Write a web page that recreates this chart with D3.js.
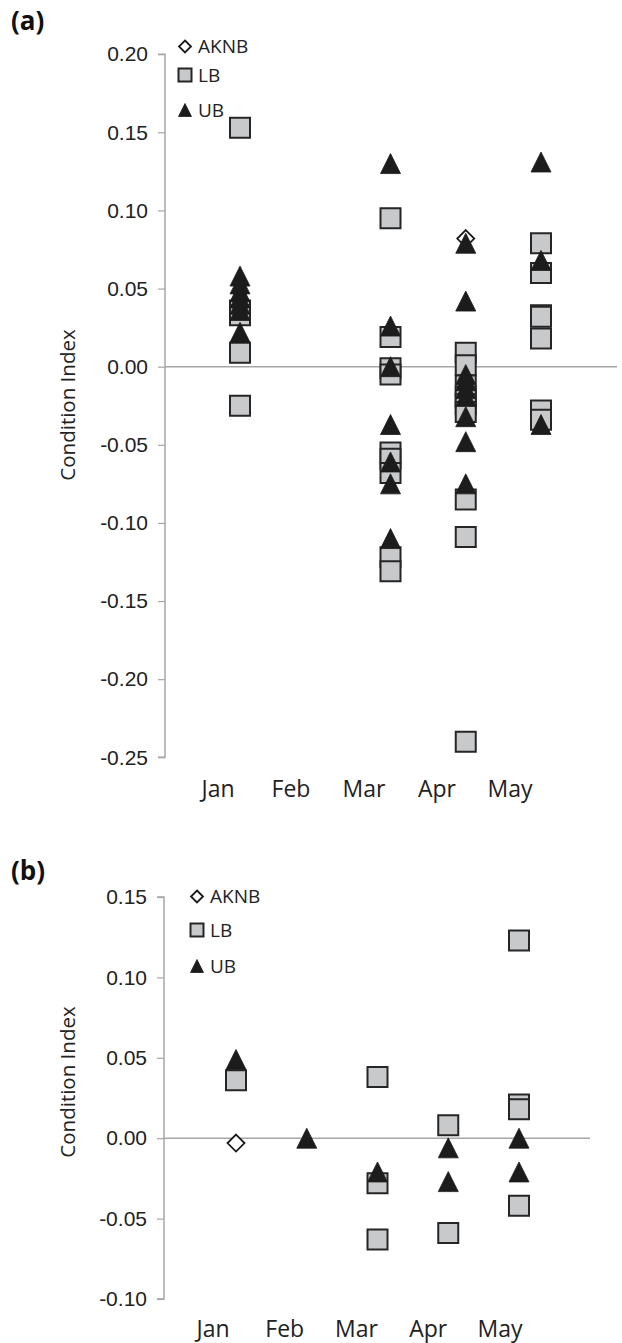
<!DOCTYPE html>
<html>
<head>
<meta charset="utf-8">
<script src="https://cdn.jsdelivr.net/npm/d3@7"></script>
<style>
  body { margin: 0; background: #fff; }
  svg { display: block; font-family: "Open Sans", "Noto Sans", sans-serif; }
</style>
</head>
<body>
<svg id="chart" width="622" height="1343"></svg>
<script>
// month categories (1..5)
const months = ["Jan", "Feb", "Mar", "Apr", "May"];
const seriesNames = ["AKNB", "LB", "UB"];

// panel (a) values: [month index, condition index]
const aAKNB = [[4, 0.082]];
const aLB = [
    [1, 0.153], [1, 0.036], [1, 0.033], [1, 0.009], [1, -0.025],
    [3, 0.095], [3, 0.019], [3, -0.001], [3, -0.005], [3, -0.055], [3, -0.059], [3, -0.068], [3, -0.122], [3, -0.131],
    [4, 0.009], [4, 0.001], [4, -0.012], [4, -0.019], [4, -0.024], [4, -0.029], [4, -0.085], [4, -0.109], [4, -0.240],
    [5, 0.079], [5, 0.060], [5, 0.033], [5, 0.032], [5, 0.018], [5, -0.028], [5, -0.034]
];
const aUB = [
    [1, 0.058], [1, 0.053], [1, 0.048], [1, 0.044], [1, 0.040], [1, 0.036], [1, 0.022],
    [3, 0.130], [3, 0.026], [3, 0.000], [3, -0.037], [3, -0.061], [3, -0.075], [3, -0.110],
    [4, 0.079], [4, 0.042], [4, -0.005], [4, -0.009], [4, -0.014], [4, -0.019], [4, -0.032], [4, -0.048], [4, -0.075],
    [5, 0.131], [5, 0.068], [5, -0.037]
];
const aTicks = [0.20, 0.15, 0.10, 0.05, 0.00, -0.05, -0.10, -0.15, -0.20, -0.25];

// panel (b) values
const bAKNB = [[1, -0.003]];
const bLB = [
    [1, 0.036],
    [3, 0.038], [3, -0.028], [3, -0.063],
    [4, 0.008], [4, -0.059],
    [5, 0.123], [5, 0.021], [5, 0.018], [5, -0.042]
];
const bUB = [
    [1, 0.049], [2, 0.000],
    [3, -0.021],
    [4, -0.006], [4, -0.027],
    [5, 0.000], [5, -0.021]
];
const bTicks = [0.15, 0.10, 0.05, 0.00, -0.05, -0.10];

const svg = d3.select('#chart');

// marker shapes, centred on 0,0
function markerPath(type, s) {
    let h = s / 2;
    if (type === 'AKNB') return `M0,${-h}L${h},0L0,${h}L${-h},0Z`;
    if (type === 'LB') return `M${-h},${-h}H${h}V${h}H${-h}Z`;
    return `M0,${-h}L${h},${h}L${-h},${h}Z`;
}

function styleMarker(sel, type) {
    if (type === 'AKNB') {
        sel.attr('fill', '#fff').attr('stroke', '#1a1a1a').attr('stroke-width', 1.8);
    } else if (type === 'LB') {
        sel.attr('fill', '#c8c9cb').attr('stroke', '#262626').attr('stroke-width', 2);
    } else {
        sel.attr('fill', '#1c1c1c').attr('stroke', '#1c1c1c').attr('stroke-width', 0.8);
    }
}

function drawPanel(p) {
    let g = svg.append('g');

    let y = d3.scaleLinear().domain(p.yDomain).range(p.yRange);
    let x = d3.scaleLinear().domain([1, 5]).range(p.markerRange);
    let xl = d3.scaleLinear().domain([1, 5]).range(p.labelRange);

    // y axis
    let yAxis = d3.axisLeft(y)
        .tickValues(p.ticks)
        .tickSize(7)
        .tickPadding(10)
        .tickFormat(d3.format('.2f'));

    let ax = g.append('g')
        .attr('transform', `translate(${p.axisX},0)`)
        .call(yAxis);
    ax.select('.domain').attr('stroke', '#a6a6a6').attr('stroke-width', 1.5)
        .attr('d', `M-7,${p.yRange[1]}H0V${p.yRange[0]}H-7`);
    ax.selectAll('.tick line').attr('stroke', '#a6a6a6').attr('stroke-width', 1.2);
    ax.selectAll('.tick text')
        .attr('fill', '#222')
        .style('font-size', '21px')
        .text(d => d3.format('.2f')(d).replace('−', '-'));

    // zero line
    g.append('line')
        .attr('x1', p.axisX).attr('x2', p.zeroEnd)
        .attr('y1', y(0)).attr('y2', y(0))
        .attr('stroke', '#a6a6a6').attr('stroke-width', 1.5);

    // month labels
    g.selectAll('.month')
        .data(months)
        .enter().append('text')
        .attr('x', (d, i) => xl(i + 1))
        .attr('y', p.monthY)
        .attr('text-anchor', 'middle')
        .attr('fill', '#222')
        .style('font-size', '23px')
        .text(d => d);

    // axis title
    g.append('text')
        .attr('transform', `translate(${p.titleX},${p.titleY}) rotate(-90)`)
        .attr('text-anchor', 'middle')
        .attr('fill', '#222')
        .style('font-size', '20.5px')
        .text('Condition Index');

    // panel letter
    g.append('text')
        .attr('x', 11).attr('y', p.letterY)
        .attr('fill', '#111')
        .style('font-size', '26px')
        .style('font-weight', 'bold')
        .text(p.letter);

    // points, series order AKNB, LB, UB
    p.series.forEach((data, si) => {
        let type = seriesNames[si];
        let pts = g.selectAll('.pt-' + type)
            .data(data)
            .enter().append('path')
            .attr('d', markerPath(type, type === 'AKNB' ? 17 : 20))
            .attr('transform', d => `translate(${x(d[0])},${y(d[1])})`);
        styleMarker(pts, type);
    });

    // legend
    seriesNames.forEach((name, i) => {
        let ly = p.legendY[i];
        let m = g.append('path')
            .attr('d', markerPath(name, name === 'AKNB' ? 12 : 13))
            .attr('transform', `translate(${p.legendX},${ly})`);
        styleMarker(m, name);
        g.append('text')
            .attr('x', p.legendX + 13)
            .attr('y', ly)
            .attr('dy', '0.36em')
            .attr('fill', '#222')
            .style('font-size', '19px')
            .text(name);
    });
}

drawPanel({
    letter: '(a)', letterY: 30,
    yDomain: [-0.25, 0.20], yRange: [757.3, 54.2], ticks: aTicks,
    axisX: 165, zeroEnd: 617,
    markerRange: [240, 541], labelRange: [218, 510], monthY: 797,
    titleX: 75, titleY: 405,
    legendX: 185, legendY: [46.5, 75, 110],
    series: [aAKNB, aLB, aUB]
});

drawPanel({
    letter: '(b)', letterY: 880,
    yDomain: [-0.10, 0.15], yRange: [1299, 897], ticks: bTicks,
    axisX: 164, zeroEnd: 590,
    markerRange: [236, 519], labelRange: [213, 500], monthY: 1337,
    titleX: 75, titleY: 1082,
    legendX: 197, legendY: [896.5, 930, 966],
    series: [bAKNB, bLB, bUB]
});
</script>
</body>
</html>
